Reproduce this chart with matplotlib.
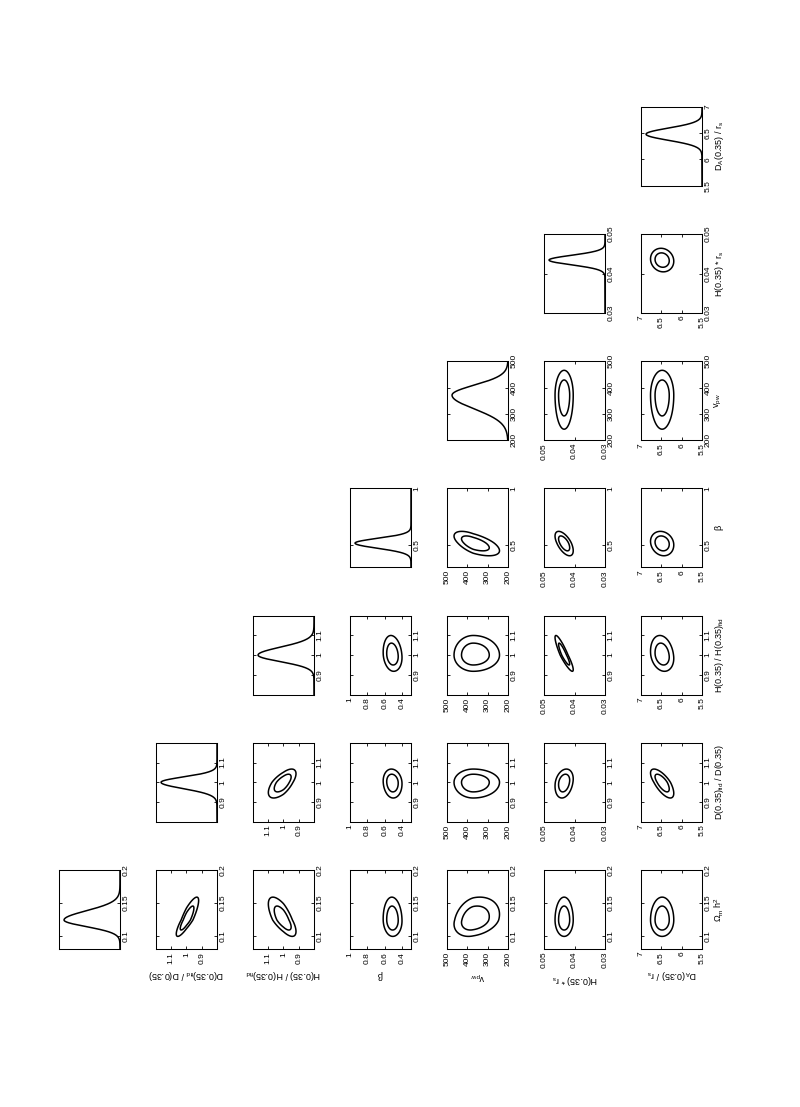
import numpy as np
import matplotlib.pyplot as plt

plt.rcParams['font.family'] = ['Liberation Sans', 'DejaVu Sans']
plt.rcParams['mathtext.fontset'] = 'custom'
plt.rcParams['mathtext.rm'] = 'Liberation Sans'
plt.rcParams['mathtext.it'] = 'Liberation Sans:italic'
plt.rcParams['mathtext.default'] = 'regular'
plt.rcParams['axes.linewidth'] = 0.75

# parametros (orden de la matriz triangular)
names = [r'$\Omega_m\ h^2$',
         r'D(0.35)$_{fid}$ / D(0.35)',
         r'H(0.35) / H(0.35)$_{fid}$',
         r'$\beta$',
         r'v$_{pw}$',
         r'H(0.35) * r$_s$',
         r'D$_A$(0.35) / r$_s$']

mu = [0.124, 1.00, 1.00, 0.515, 371, 0.0434, 6.48]
sig_lo = [0.010, 0.032, 0.033, 0.045, 52, 0.0012, 0.115]
sig_hi = [0.014, 0.027, 0.040, 0.042, 38, 0.0012, 0.115]

lims = [(0.08, 0.2), (0.8, 1.2), (0.8, 1.2), (0.3, 1.0),
        (200, 500), (0.03, 0.05), (5.5, 7.0)]

# ticks del eje "x" original (lado derecho) y del eje "y" original (abajo)
ticks_x = [[0.1, 0.15, 0.2], [0.9, 1, 1.1], [0.9, 1, 1.1], [0.5, 1],
           [200, 300, 400, 500], [0.03, 0.04, 0.05], [5.5, 6, 6.5, 7]]
labels_x = [['0.1', '0.15', '0.2'], ['0.9', '1', '1.1'], ['0.9', '1', '1.1'],
            ['0.5', '1'], ['200', '300', '400', '500'],
            ['0.03', '0.04', '0.05'], ['5.5', '6', '6.5', '7']]
ticks_y = [[0.1, 0.15, 0.2], [0.9, 1, 1.1], [0.9, 1, 1.1], [0.4, 0.6, 0.8, 1],
           [200, 300, 400, 500], [0.03, 0.04, 0.05], [5.5, 6, 6.5, 7]]
labels_y = [['0.1', '0.15', '0.2'], ['0.9', '1', '1.1'], ['0.9', '1', '1.1'],
            ['0.4', '0.6', '0.8', '1'], ['200', '300', '400', '500'],
            ['0.03', '0.04', '0.05'], ['5.5', '6', '6.5', '7']]

# correlaciones entre parametros
rho = np.array([
    [1.00, -0.85, 0.70, 0.05, -0.25, 0.00, 0.00],
    [-0.85, 1.00, -0.65, 0.10, 0.00, -0.25, 0.70],
    [0.70, -0.65, 1.00, 0.15, 0.00, 0.90, 0.20],
    [0.05, 0.10, 0.15, 1.00, 0.60, 0.60, 0.15],
    [-0.25, 0.00, 0.00, 0.60, 1.00, 0.00, 0.00],
    [0.00, -0.25, 0.90, 0.60, 0.00, 1.00, 0.10],
    [0.00, 0.70, 0.20, 0.15, 0.00, 0.10, 1.00],
])

levels = [2.30, 6.17]  # 68% y 95%
n = len(names)


def zval(k, v):
    return np.where(v < mu[k], (v - mu[k]) / sig_lo[k], (v - mu[k]) / sig_hi[k])


fig = plt.figure(figsize=(8, 11.07), dpi=100)
W, H = 800, 1107
fs_tick = 6
fs_lab = 6.5

for i in range(n):          # columna en la imagen
    for j in range(i + 1):  # fila desde abajo
        left = 59 + 97.0 * i
        top = 870 - 127.2 * j
        ax = fig.add_axes([left / W, 1 - (top + 79) / H, 61 / W, 79 / H])
        gy = np.linspace(lims[j][0], lims[j][1], 300)
        if i == j:
            p = np.exp(-0.5 * zval(i, gy) ** 2)
            ax.plot(p, gy, color='k', lw=1.1)
            ax.set_xlim(1.09, 0)
            ax.set_xticks([])
        else:
            gx = np.linspace(lims[i][0], lims[i][1], 300)
            X, Y = np.meshgrid(gx, gy)
            zx = zval(i, X)
            zy = zval(j, Y)
            r = rho[i, j]
            chi2 = (zx ** 2 - 2 * r * zx * zy + zy ** 2) / (1 - r ** 2)
            ax.contour(X, Y, chi2, levels=levels, colors='k', linewidths=1.1)
            ax.set_xlim(lims[i][1], lims[i][0])
            ax.set_xticks(ticks_y[i])
            ax.set_xticklabels(labels_y[i], rotation=90, fontsize=fs_tick)
        ax.set_ylim(lims[j])
        ax.set_yticks(ticks_x[j])
        ax.set_yticklabels(labels_x[j], rotation=90, fontsize=fs_tick, va='center')
        ax.tick_params(direction='in', length=2, width=0.6, top=True, bottom=True,
                       left=True, right=True, labelleft=False, labelright=True,
                       labelbottom=(i != j), pad=2)
        if j == 0 and i > 0:
            ax.set_xlabel(names[i], rotation=180, fontsize=fs_lab, labelpad=3)
        if i == n - 1:
            ax.yaxis.set_label_position('right')
            ax.set_ylabel(names[j], rotation=90, fontsize=fs_lab, labelpad=1)

plt.savefig('out.png', dpi=100)
